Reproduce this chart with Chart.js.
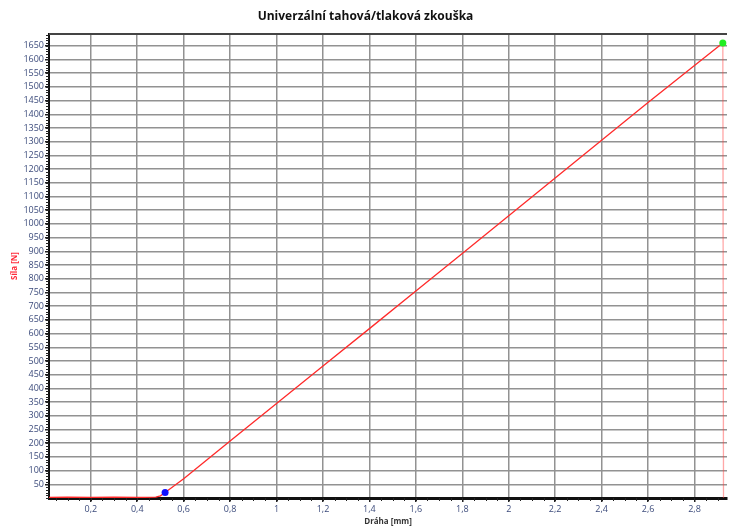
<!DOCTYPE html>
<html>
<head>
<meta charset="utf-8">
<script src="https://cdn.jsdelivr.net/npm/chart.js@4.4.1/dist/chart.umd.min.js"></script>
<style>
  html, body { margin: 0; padding: 0; background: #fff; }
  #wrap { width: 731px; height: 527px; }
</style>
</head>
<body>
<div id="wrap"><canvas id="c"></canvas></div>
<script>
// Dráha [mm] vs Síla [N]
const pathMm = [0.02, 0.1, 0.2, 0.3, 0.4, 0.48, 0.5, 0.52, 0.6, 0.8, 1.0, 1.2, 1.4, 1.6, 1.8, 2.0, 2.2, 2.4, 2.6, 2.8, 2.922, 2.925];
const forceN = [2, 3, 2, 3, 2, 3, 8, 20, 70, 208, 345, 482, 618, 755, 892, 1030, 1168, 1305, 1443, 1578, 1660, 0];

const startPoint = { x: 0.52, y: 20 };
const breakPoint = { x: 2.922, y: 1660 };

const xTicks = [0.2, 0.4, 0.6, 0.8, 1, 1.2, 1.4, 1.6, 1.8, 2, 2.2, 2.4, 2.6, 2.8];
const yTicks = [];
for (let v = 50; v <= 1650; v += 50) yTicks.push(v);

const labelColor = '#3d4c7c';
const gridColor = '#929292';

// small ticks along the axes + dark top frame line
const axisExtras = {
    id: 'axisExtras',
    afterDraw(chart) {
        const { ctx, chartArea, scales } = chart;
        ctx.save();
        ctx.strokeStyle = '#222';
        ctx.lineWidth = 1;
        ctx.beginPath();
        for (let v = 0; v <= scales.y.max; v += 10) {
            const py = Math.round(scales.y.getPixelForValue(v)) + 0.5;
            ctx.moveTo(chartArea.left - 3, py);
            ctx.lineTo(chartArea.left, py);
        }
        for (let v = 0.05; v <= scales.x.max; v += 0.05) {
            const px = Math.round(scales.x.getPixelForValue(v)) + 0.5;
            ctx.moveTo(px, chartArea.bottom);
            ctx.lineTo(px, chartArea.bottom + 3);
        }
        ctx.stroke();
        ctx.strokeStyle = '#444';
        ctx.lineWidth = 2;
        ctx.beginPath();
        ctx.moveTo(chartArea.left, chartArea.top);
        ctx.lineTo(chartArea.right, chartArea.top);
        ctx.stroke();
        ctx.restore();
    }
};

new Chart(document.getElementById('c'), {
    type: 'scatter',
    data: {
        datasets: [
            {
                data: pathMm.map((x, i) => ({ x, y: forceN[i] })),
                showLine: true,
                borderColor: '#ff2a2a',
                borderWidth: 1.3,
                pointRadius: 0,
                segment: {
                    borderColor: c => c.p0DataIndex === pathMm.length - 2 ? 'rgba(255,60,60,0.45)' : undefined
                },
                order: 2
            },
            {
                data: [startPoint],
                pointRadius: 3.5,
                pointBackgroundColor: '#1010ff',
                pointBorderWidth: 0,
                order: 1
            },
            {
                data: [breakPoint],
                pointRadius: 3.5,
                pointBackgroundColor: '#22ee22',
                pointBorderWidth: 0,
                order: 1
            }
        ]
    },
    options: {
        responsive: true,
        maintainAspectRatio: false,
        animation: false,
        layout: { padding: { left: 0, right: 0, top: 0, bottom: 0 } },
        plugins: {
            legend: { display: false },
            tooltip: { enabled: false },
            title: {
                display: true,
                text: 'Univerzální tahová/tlaková zkouška',
                color: '#111',
                font: { family: 'Open Sans', size: 12, weight: 'bold', lineHeight: 1.2 },
                padding: { top: 9, bottom: 10.6 }
            }
        },
        scales: {
            x: {
                type: 'linear',
                min: 0.02,
                max: 2.94,
                afterBuildTicks: s => { s.ticks = xTicks.map(v => ({ value: v })); },
                afterFit: s => { s.height = 29; },
                grid: { color: gridColor, lineWidth: 1.5, tickLength: 4, tickColor: '#222' },
                border: { color: '#111', width: 3 },
                ticks: {
                    color: labelColor,
                    padding: 2,
                    maxRotation: 0,
                    font: { family: 'Open Sans', size: 9 },
                    callback: v => String(v).replace('.', ',')
                },
                title: {
                    display: true,
                    text: 'Dráha [mm]',
                    color: '#333',
                    font: { family: 'Open Sans', size: 8, weight: 'bold' },
                    padding: 0
                }
            },
            y: {
                type: 'linear',
                min: 0,
                max: 1693,
                afterBuildTicks: s => { s.ticks = yTicks.map(v => ({ value: v })); },
                afterFit: s => { s.width = 49; },
                grid: { color: gridColor, lineWidth: 1.5, tickLength: 4, tickColor: '#222' },
                border: { color: '#111', width: 2 },
                ticks: {
                    color: labelColor,
                    padding: 1,
                    font: { family: 'Open Sans', size: 9 },
                    callback: v => String(v)
                },
                title: {
                    display: true,
                    text: 'Síla [N]',
                    color: '#ff2a3a',
                    font: { family: 'Open Sans', size: 8, weight: 'bold' },
                    padding: { top: 10, bottom: 0 }
                }
            }
        }
    },
    plugins: [axisExtras]
});
</script>
</body>
</html>
